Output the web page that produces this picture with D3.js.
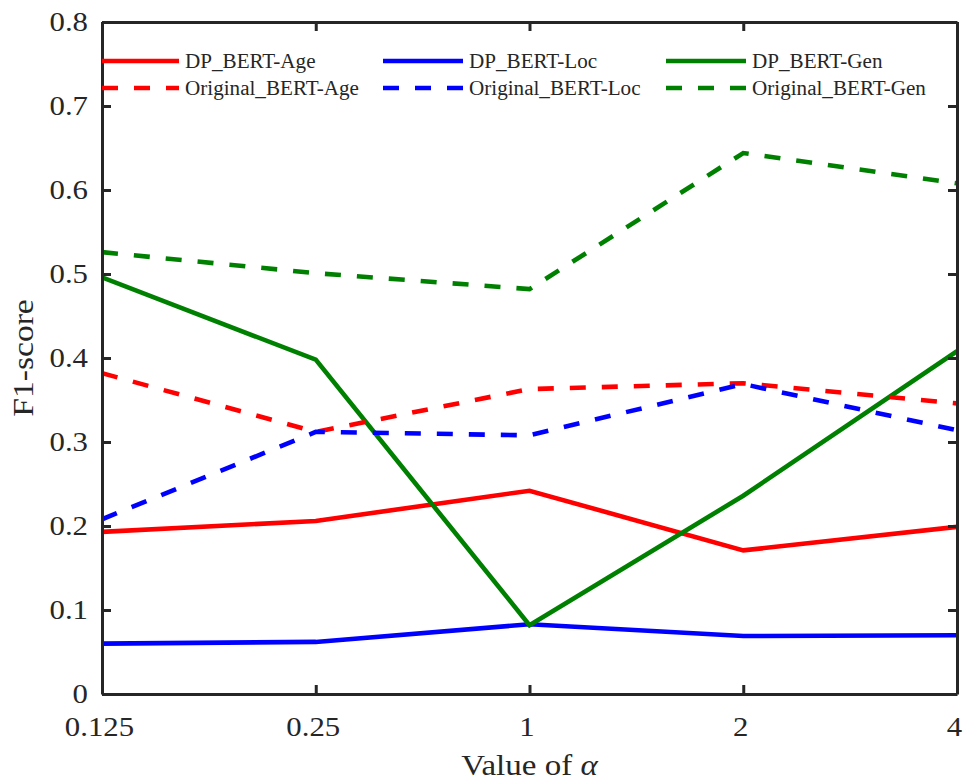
<!DOCTYPE html>
<html>
<head>
<meta charset="utf-8">
<script src="https://cdn.jsdelivr.net/npm/d3@7"></script>
<style>
  html, body { margin: 0; padding: 0; background: #fff; }
  svg { display: block; }
  text { font-family: "Liberation Serif", "Times New Roman", serif; fill: #262626; }
</style>
</head>
<body>
<svg id="chart" width="966" height="782"></svg>
<script>
const categories = ["0.125", "0.25", "1", "2", "4"];
const yTicks = [0, 0.1, 0.2, 0.3, 0.4, 0.5, 0.6, 0.7, 0.8];

const dpAge   = [0.193, 0.206, 0.242, 0.171, 0.199];
const dpLoc   = [0.060, 0.062, 0.083, 0.069, 0.070];
const dpGen   = [0.496, 0.398, 0.082, 0.236, 0.408];
const origAge = [0.382, 0.312, 0.363, 0.370, 0.346];
const origLoc = [0.208, 0.312, 0.308, 0.369, 0.314];
const origGen = [0.526, 0.501, 0.482, 0.644, 0.608];

const seriesNames = ["DP_BERT-Age", "DP_BERT-Loc", "DP_BERT-Gen",
                     "Original_BERT-Age", "Original_BERT-Loc", "Original_BERT-Gen"];

const series = [
  { name: seriesNames[0], values: dpAge,   color: "#ff0000", dashed: false },
  { name: seriesNames[1], values: dpLoc,   color: "#0000ff", dashed: false },
  { name: seriesNames[2], values: dpGen,   color: "#008000", dashed: false },
  { name: seriesNames[3], values: origAge, color: "#ff0000", dashed: true },
  { name: seriesNames[4], values: origLoc, color: "#0000ff", dashed: true },
  { name: seriesNames[5], values: origGen, color: "#008000", dashed: true }
];

const L = 102, R = 957, T = 22, B = 694;
const svg = d3.select("#chart");

const x = d3.scalePoint().domain(categories).range([L, R]).padding(0);
const y = d3.scaleLinear().domain([0, 0.8]).range([B, T]);

const axisColor = "#262626";
const tickLen = 9;
const FONT = "'Liberation Serif', 'Times New Roman', serif";

function stretch(sel, f) {
  sel.each(function () {
    const w = this.getComputedTextLength();
    if (w > 0) {
      d3.select(this).attr("textLength", w * f).attr("lengthAdjust", "spacingAndGlyphs");
    }
  });
}

// lines
const line = d3.line()
  .x((d, i) => x(categories[i]))
  .y(d => y(d));

svg.append("defs").append("clipPath").attr("id", "clip")
  .append("rect").attr("x", L).attr("y", T).attr("width", R - L).attr("height", B - T);

const lg = svg.append("g").attr("clip-path", "url(#clip)");
series.forEach(s => {
  lg.append("path")
    .datum(s.values)
    .attr("d", line)
    .attr("fill", "none")
    .attr("stroke", s.color)
    .attr("stroke-width", 4.6)
    .attr("stroke-linejoin", "miter")
    .attr("stroke-dasharray", s.dashed ? "16,16" : null);
});

// axes
const fmt = d => d === 0 ? "0" : d3.format(".1f")(d);
const axL = d3.axisLeft(y).tickValues(yTicks).tickFormat(fmt).tickSizeInner(-tickLen).tickSizeOuter(0).tickPadding(14);
const axR = d3.axisRight(y).tickValues(yTicks).tickFormat("").tickSizeInner(-tickLen).tickSizeOuter(0);
const axB = d3.axisBottom(x).tickSizeInner(-tickLen).tickSizeOuter(0).tickPadding(22);
const axT = d3.axisTop(x).tickFormat("").tickSizeInner(-tickLen).tickSizeOuter(0);

function style(g) {
  g.select(".domain").attr("stroke", axisColor).attr("stroke-width", 3);
  g.selectAll(".tick line").attr("stroke", axisColor).attr("stroke-width", 3);
  g.selectAll(".tick text")
    .attr("font-family", FONT)
    .attr("font-size", 28)
    .attr("fill", axisColor);
}

const gL = svg.append("g").attr("transform", `translate(${L},0)`).call(axL).call(style);
svg.append("g").attr("transform", `translate(${R},0)`).call(axR).call(style);
const gB = svg.append("g").attr("transform", `translate(0,${B})`).call(axB).call(style);
svg.append("g").attr("transform", `translate(0,${T})`).call(axT).call(style);
stretch(gL.selectAll(".tick text"), 1.1);
stretch(gB.selectAll(".tick text"), 1.1);
gB.selectAll(".tick text").attr("dx", -3);

// axis labels
const yl = svg.append("text")
  .attr("transform", `translate(33,${(T + B) / 2}) rotate(-90)`)
  .attr("text-anchor", "middle")
  .attr("font-size", 30)
  .text("F1-score");
stretch(yl, 1.12);

const xl = svg.append("text")
  .attr("x", (L + R) / 2)
  .attr("y", 775)
  .attr("text-anchor", "middle")
  .attr("font-size", 30);
xl.append("tspan").text("Value of ");
xl.append("tspan").attr("font-style", "italic").text("α");
stretch(xl, 1.1);

// legend
const legCols = [
  { x1: 102, x2: 179, tx: 185 },
  { x1: 383, x2: 463, tx: 469 },
  { x1: 666, x2: 746, tx: 752 }
];
const legRows = [61, 88];
series.forEach((s, i) => {
  const c = legCols[i % 3];
  const r = legRows[Math.floor(i / 3)];
  svg.append("line")
    .attr("x1", c.x1).attr("x2", c.x2).attr("y1", r).attr("y2", r)
    .attr("stroke", s.color).attr("stroke-width", 4.6)
    .attr("stroke-dasharray", s.dashed ? "16,16" : null);
  const t = svg.append("text")
    .attr("x", c.tx).attr("y", r + 7)
    .attr("font-size", 20.5)
    .text(s.name);
  stretch(t, 1.03);
});
</script>
</body>
</html>
